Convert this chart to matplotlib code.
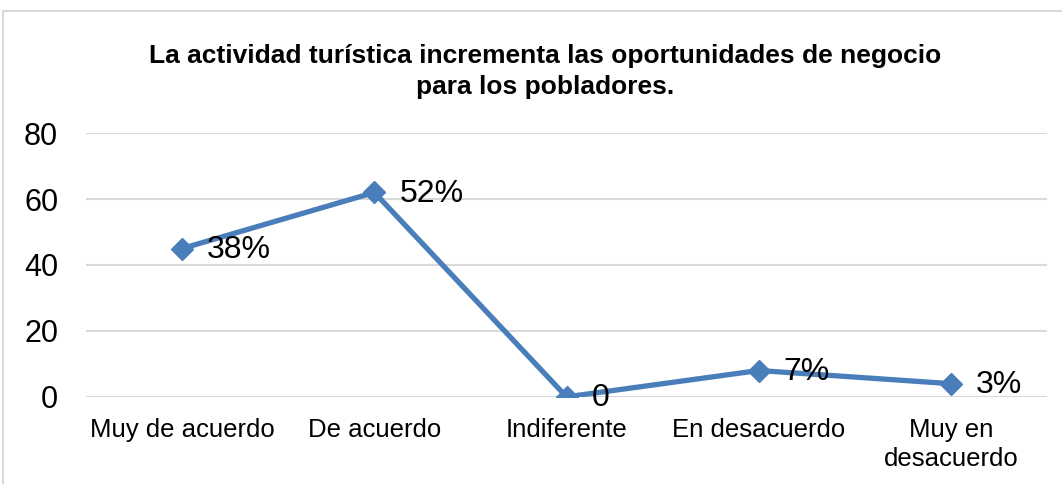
import matplotlib.pyplot as plt
from matplotlib.patches import Rectangle

plt.rcParams['font.family'] = ['Liberation Sans', 'DejaVu Sans']

categories = ['Muy de acuerdo', 'De acuerdo', 'Indiferente', 'En desacuerdo', 'Muy en\ndesacuerdo']
counts = [45, 62, 0, 8, 4]
labels = ['38%', '52%', '0', '7%', '3%']
yticks = [0, 20, 40, 60, 80]

line_color = '#4A7EBB'
grid_color = '#D9D9D9'

fig = plt.figure(figsize=(10.62, 4.84), dpi=100)
ax = fig.add_axes([0.081, 0.18, 0.905, 0.545])

# outer chart frame
fig.patches.append(Rectangle((0.003, -0.05), 1.05, 1.027, transform=fig.transFigure,
                             fill=False, edgecolor=grid_color, linewidth=1.5))

x = list(range(len(categories)))
ax.plot(x, counts, color=line_color, linewidth=3.8, marker='D', markersize=11,
        markeredgecolor=line_color, markerfacecolor=line_color, zorder=3)

for xi, yi, lab in zip(x, counts, labels):
    ax.annotate(lab, (xi, yi), xytext=(18, -1), textcoords='offset points',
                ha='left', va='center', fontsize=23, color='black', zorder=4)

ax.set_xlim(-0.5, len(categories) - 0.5)
ax.set_ylim(0, 80)
ax.set_yticks(yticks)
ax.set_xticks(x)
ax.set_xticklabels(categories, fontsize=18.5, linespacing=1.3)
ax.tick_params(axis='y', labelsize=22, length=0, pad=20)
ax.tick_params(axis='x', length=0, pad=15)
ax.grid(axis='y', color=grid_color, linewidth=1.5, zorder=0)
ax.set_axisbelow(True)
for s in ax.spines.values():
    s.set_visible(False)

fig.text(0.513, 0.852, 'La actividad turística incrementa las oportunidades de negocio\npara los pobladores.',
         ha='center', va='center', fontsize=19, fontweight='bold', linespacing=1.35)

fig.savefig('out.png', dpi=100)
